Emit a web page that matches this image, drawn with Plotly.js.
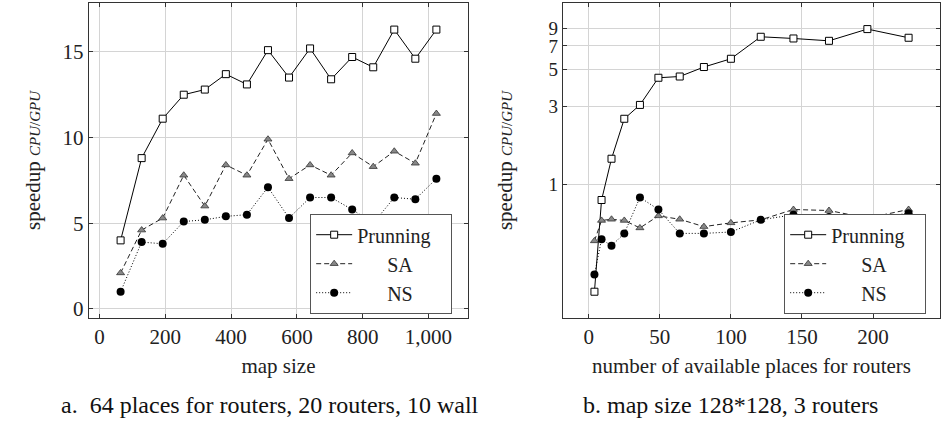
<!DOCTYPE html>
<html>
<head>
<meta charset="utf-8">
<script src="https://cdn.plot.ly/plotly-3.0.1.min.js"></script>
<style>html,body{margin:0;padding:0;background:#fff;}#chart{width:945px;height:432px;}</style>
</head>
<body>
<div id="chart"></div>
<script>
// ---- data (left panel: map size) ----
const mapSize = [64,128,192,256,320,384,448,512,576,640,704,768,832,896,960,1024];
const leftPrunning = [4.0,8.8,11.1,12.5,12.8,13.7,13.1,15.1,13.5,15.2,13.4,14.7,14.1,16.3,14.6,16.3];
const leftSA       = [2.1,4.6,5.3,7.8,6.0,8.4,7.8,9.9,7.6,8.4,7.8,9.1,8.3,9.2,8.5,11.4];
const leftNS       = [1.0,3.9,3.8,5.1,5.2,5.4,5.5,7.1,5.3,6.5,6.5,5.8,5.0,6.5,6.4,7.6];
// ---- data (right panel: number of available places) ----
const places = [4,9,16,25,36,49,64,81,100,121,144,169,196,225];
const rightPrunning = [0.22,0.80,1.43,2.51,3.05,4.47,4.55,5.2,5.84,7.96,7.77,7.52,8.87,7.85];
const rightSA       = [0.45,0.60,0.61,0.60,0.54,0.64,0.61,0.55,0.58,0.605,0.70,0.69,0.62,0.70];
const rightNS       = [0.28,0.46,0.42,0.50,0.83,0.70,0.50,0.50,0.51,0.605,0.65,0.63,0.61,0.665];
// ---- tick labels ----
const leftXTicks = [0,200,400,600,800,1000];
const leftYTicks = [0,5,10,15];
const rightXTicks = [0,50,100,150,200];
const rightYTicks = [1,3,5,7,9];
const seriesNames = ['Prunning','SA','NS'];
const captions = ['a.  64 places for routers, 20 routers, 10 wall','b. map size 128*128, 3 routers'];

const serif = '"Liberation Serif", "Times New Roman", serif';
const pad = '\u00a0\u00a0\u00a0\u00a0\u00a0\u00a0';
const tail = '\u00a0\u00a0\u00a0';
const styles = [
  {mode:'lines+markers', line:{color:'#000',width:1}, marker:{symbol:'square',size:7,color:'#fff',line:{color:'#000',width:1}}},
  {mode:'lines+markers', line:{color:'#222',width:1,dash:'5px,3px'}, marker:{symbol:'triangle-up',size:7,color:'#888',line:{color:'#333',width:0.8}}},
  {mode:'lines+markers', line:{color:'#000',width:1,dash:'1px,2px'}, marker:{symbol:'circle',size:8,color:'#000',line:{color:'#000',width:0}}}
];
const legendNames = [seriesNames[0]+tail, pad+seriesNames[1], pad+seriesNames[2]];
const leftY = [leftPrunning,leftSA,leftNS];
const rightY = [rightPrunning,rightSA,rightNS];
const traces = [];
leftY.forEach((ys,i)=>traces.push(Object.assign({type:'scatter',x:mapSize,y:ys,name:legendNames[i],xaxis:'x',yaxis:'y',legend:'legend'}, JSON.parse(JSON.stringify(styles[i])))));
rightY.forEach((ys,i)=>traces.push(Object.assign({type:'scatter',x:places,y:ys,name:legendNames[i],xaxis:'x2',yaxis:'y2',legend:'legend2'}, JSON.parse(JSON.stringify(styles[i])))));

const axBase = {
  showline:true, linecolor:'#333', linewidth:1.2, mirror:'ticks',
  ticks:'inside', ticklen:4, tickcolor:'#333', tickwidth:1,
  showgrid:true, gridcolor:'#d4d4d4', gridwidth:1, zeroline:false,
  tickfont:{family:serif,size:21,color:'#222'}, automargin:false
};
const titleFont = {family:serif,size:21,color:'#222'};
const ytitle = 'speedup <span style="font-size:15px"><i>CPU</i>/<i>GPU</i></span>';
const legendBase = {yanchor:'middle', xanchor:'left', bgcolor:'#fff', bordercolor:'#555', borderwidth:1.2,
  font:{family:serif,size:20,color:'#222'}, itemwidth:36, tracegroupgap:0};

const layout = {
  width:945, height:432, margin:{l:0,r:0,t:0,b:0},
  paper_bgcolor:'#fff', plot_bgcolor:'#fff', font:{family:serif,color:'#222'},
  xaxis: Object.assign({}, axBase, {domain:[0.0942,0.4952], range:[-32,1120], tickvals:leftXTicks, tickformat:',', anchor:'y',
          title:{text:'map size', font:titleFont, standoff:10}}),
  yaxis: Object.assign({}, axBase, {domain:[0.2639,0.993], range:[-0.53,17.85], tickvals:leftYTicks, anchor:'x',
          title:{text:ytitle, font:titleFont, standoff:16}}),
  xaxis2: Object.assign({}, axBase, {domain:[0.5958,0.9947], range:[-18.1,247.1], tickvals:rightXTicks, anchor:'y2',
          title:{text:'number of available places for routers', font:titleFont, standoff:10}}),
  yaxis2: Object.assign({}, axBase, {domain:[0.2639,0.993], type:'log', range:[Math.log10(0.152),Math.log10(12.8)], tickvals:rightYTicks, anchor:'x2',
          tickfont:{family:serif,size:19,color:'#222'},
          title:{text:ytitle, font:titleFont, standoff:30}}),
  legend: Object.assign({}, legendBase, {x:0.328, y:0.3889}),
  legend2: Object.assign({}, legendBase, {x:0.8296, y:0.3889}),
  annotations: [
    {text:captions[0], xref:'paper', yref:'paper', x:0.2857, y:0.0625, showarrow:false, xanchor:'center', yanchor:'middle', font:{family:serif,size:24,color:'#111'}},
    {text:captions[1], xref:'paper', yref:'paper', x:0.7725, y:0.0625, showarrow:false, xanchor:'center', yanchor:'middle', font:{family:serif,size:24,color:'#111'}}
  ],
  showlegend:true
};
Plotly.newPlot('chart', traces, layout, {staticPlot:true, displayModeBar:false});
</script>
</body>
</html>
